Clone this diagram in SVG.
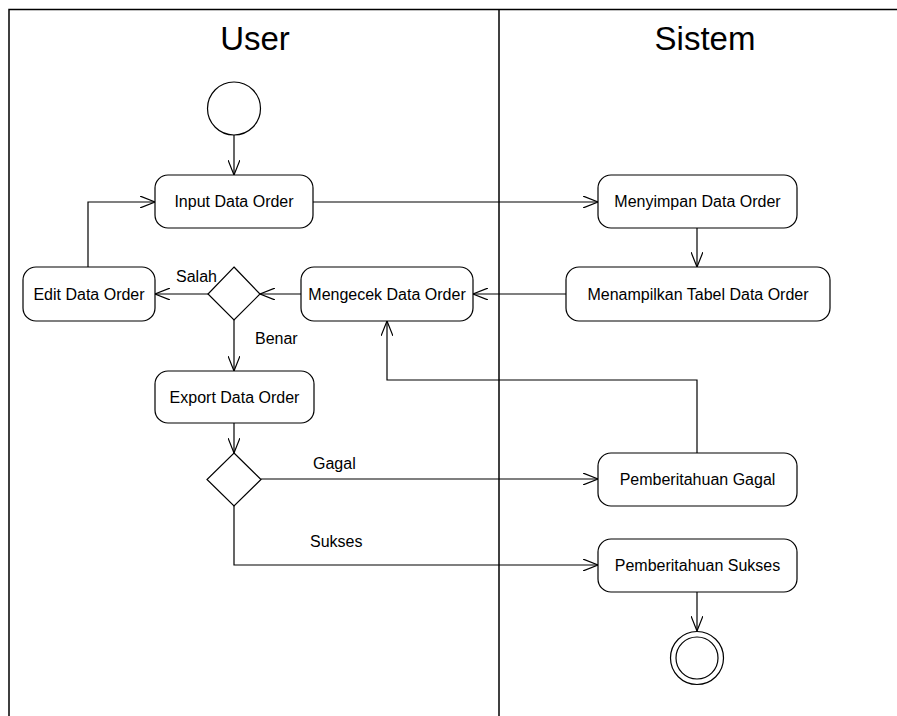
<svg xmlns="http://www.w3.org/2000/svg" width="897" height="716" viewBox="0 0 897 716">
<style>
.frame{fill:none;stroke:#000;stroke-width:1.5}
.node rect,.node polygon,.node circle{fill:#fff;stroke:#000;stroke-width:1.2}
.lbl{font-family:"Liberation Sans",Arial,sans-serif;font-size:16px;fill:#000;text-anchor:middle}
.title{font-family:"Liberation Sans",Arial,sans-serif;font-size:33px;fill:#000;text-anchor:middle}
.edge{fill:none;stroke:#000;stroke-width:1.2;marker-end:url(#arr)}
.elbl{font-family:"Liberation Sans",Arial,sans-serif;font-size:16px;fill:#000}
</style>
<defs>
<marker id="arr" viewBox="0 0 16 12" refX="15" refY="6" markerWidth="16" markerHeight="12" markerUnits="userSpaceOnUse" orient="auto">
<path d="M0,0 L15,6 L0,12" fill="none" stroke="#000" stroke-width="1.2"/>
</marker>
</defs>
<rect width="897" height="716" fill="#fff"/>
<g id="lanes">
<path class="frame" d="M9,716 V9.5 H897"/>
<line x1="499" y1="9.5" x2="499" y2="716" stroke="#000" stroke-width="1.5"/>
<text class="title" x="255" y="50">User</text>
<text class="title" x="705" y="50">Sistem</text>
</g>
<g id="connectors">
<path class="edge" d="M234,135 V175"/>
<path class="edge" d="M313,202 H598"/>
<path class="edge" d="M697,228 V267"/>
<path class="edge" d="M566,294 H473"/>
<path class="edge" d="M301,294 H260"/>
<path class="edge" d="M208,294 H155"/>
<path class="edge" d="M88,267 V202 H155"/>
<path class="edge" d="M234,320 V371"/>
<path class="edge" d="M234,423 V453"/>
<path class="edge" d="M261,479 H598"/>
<path class="edge" d="M234,506 V565 H598"/>
<path class="edge" d="M697,453 V380 H387 V321"/>
<path class="edge" d="M697,592 V631"/>
<text class="elbl" x="176" y="282">Salah</text>
<text class="elbl" x="255" y="344">Benar</text>
<text class="elbl" x="313" y="469">Gagal</text>
<text class="elbl" x="310" y="547">Sukses</text>
</g>
<g id="start" class="node"><circle cx="234" cy="108.5" r="26.5"/></g>
<g id="input" class="node"><rect x="155" y="175" width="158" height="53" rx="13"/><text class="lbl" x="234" y="207">Input Data Order</text></g>
<g id="menyimpan" class="node"><rect x="598" y="175" width="199" height="53" rx="13"/><text class="lbl" x="697.5" y="207">Menyimpan Data Order</text></g>
<g id="menampilkan" class="node"><rect x="566" y="267" width="264" height="54" rx="13"/><text class="lbl" x="698" y="300">Menampilkan Tabel Data Order</text></g>
<g id="mengecek" class="node"><rect x="301" y="267" width="172" height="54" rx="13"/><text class="lbl" x="387" y="300">Mengecek Data Order</text></g>
<g id="decision1" class="node"><polygon points="234,267 260,294 234,320 208,294"/></g>
<g id="edit" class="node"><rect x="23" y="267" width="132" height="54" rx="13"/><text class="lbl" x="89" y="300">Edit Data Order</text></g>
<g id="export" class="node"><rect x="155" y="371" width="159" height="52" rx="13"/><text class="lbl" x="234.5" y="403">Export Data Order</text></g>
<g id="decision2" class="node"><polygon points="234,453 261,479.5 234,506 207,479.5"/></g>
<g id="gagal" class="node"><rect x="598" y="453" width="199" height="53" rx="13"/><text class="lbl" x="697.5" y="485">Pemberitahuan Gagal</text></g>
<g id="sukses" class="node"><rect x="598" y="539" width="199" height="53" rx="13"/><text class="lbl" x="697.5" y="571">Pemberitahuan Sukses</text></g>
<g id="end" class="node"><circle cx="697" cy="658" r="26.5"/><circle cx="697" cy="658" r="21"/></g>
</svg>
